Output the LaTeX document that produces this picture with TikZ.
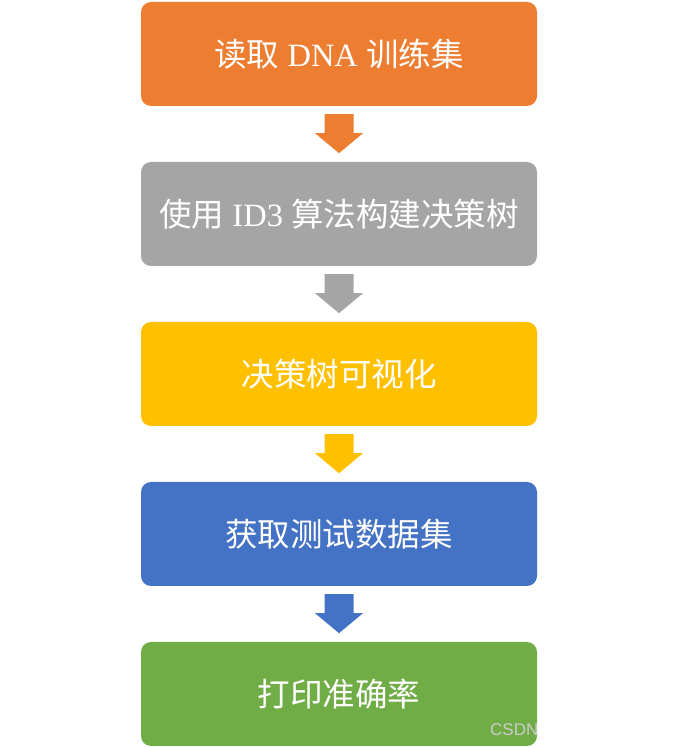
\documentclass[tikz,border=0pt]{standalone}
\usepackage{fontspec}
\setmainfont{Liberation Serif}
\setsansfont{Liberation Sans}
\newfontfamily\cjk{Noto Sans CJK SC}
\usetikzlibrary{calc}
\definecolor{stepOrange}{HTML}{ED7D31}
\definecolor{stepGray}{HTML}{A5A5A5}
\definecolor{stepYellow}{HTML}{FFC000}
\definecolor{stepBlue}{HTML}{4472C4}
\definecolor{stepGreen}{HTML}{70AD47}
\tikzset{
	stepbox/.style={rectangle, rounded corners=10pt, minimum width=396pt, minimum height=104pt,
		inner sep=0pt, text=white, font=\fontsize{32.5}{38}\selectfont}
}
% block arrow hanging below a box
\def\blockarrow[#1](#2){\fill[#1] ($(#2.south)+(-14.5,-8)$) -- ($(#2.south)+(14.5,-8)$) -- ($(#2.south)+(14.5,-27)$) -- ($(#2.south)+(24,-27)$) -- ($(#2.south)+(0,-47)$) -- ($(#2.south)+(-24,-27)$) -- ($(#2.south)+(-14.5,-27)$) -- cycle;}

\begin{document}
\begin{tikzpicture}[x=1pt, y=1pt]
		%%%%% START %%%%%
		
		\useasboundingbox (0, 0) rectangle (678, 748);
		
		\node[stepbox, fill=stepOrange] (read) at (339, 694) {{\cjk 读取} DNA {\cjk 训练集}};
		\node[stepbox, fill=stepGray] (build) at (339, 534) {{\cjk 使用} ID3 {\cjk 算法构建决策树}};
		\node[stepbox, fill=stepYellow] (plot) at (339, 374) {\cjk 决策树可视化};
		\node[stepbox, fill=stepBlue] (test) at (339, 214) {\cjk 获取测试数据集};
		\node[stepbox, fill=stepGreen] (acc) at (339, 54) {\cjk 打印准确率};
		
		\blockarrow[stepOrange](read)
		\blockarrow[stepGray](build)
		\blockarrow[stepYellow](plot)
		\blockarrow[stepBlue](test)
		
		\node[anchor=south west, inner sep=0pt, text=black!20, font=\sffamily\fontsize{17}{20}\selectfont] (mark) at (490, 12) {CSDN};
		
		%%%%% END %%%%%
	\end{tikzpicture}
\end{document}
